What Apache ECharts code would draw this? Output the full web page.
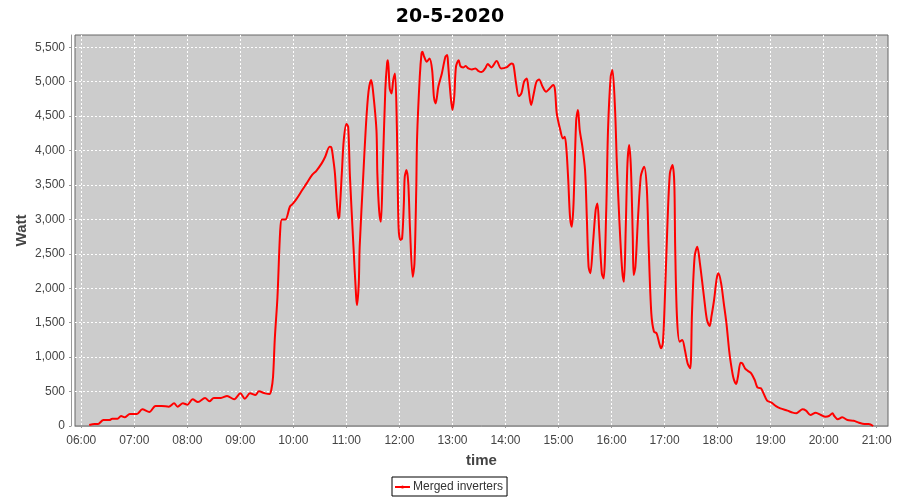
<!DOCTYPE html>
<html>
<head>
<meta charset="utf-8">
<script src="https://cdn.jsdelivr.net/npm/echarts@6/dist/echarts.min.js"></script>
<style>html,body{margin:0;padding:0;background:#fff;}#chart{width:900px;height:500px;}</style>
</head>
<body>
<div id="chart"></div>
<script>
const title = '20-5-2020';
const seriesName = 'Merged inverters';
const times = ['06:09','06:15','06:19','06:25','06:32','06:35','06:41','06:45','06:49','06:55','07:03','07:09','07:17','07:24','07:31','07:39','07:45','07:49','07:55','08:00','08:06','08:12','08:20','08:25','08:30','08:38','08:45','08:53','09:00','09:05','09:11','09:17','09:21','09:28','09:33','09:35','09:37','09:39','09:42','09:45','09:47','09:51','09:56','09:59','10:04','10:10','10:15','10:21','10:26','10:32','10:36','10:41','10:43','10:45','10:47','10:49','10:51','10:52','10:55','10:57','11:00','11:02','11:04','11:08','11:11','11:12','11:14','11:15','11:19','11:22','11:25','11:28','11:30','11:34','11:35','11:37','11:39','11:41','11:44','11:46','11:47','11:49','11:51','11:53','11:55','11:57','11:59','12:01','12:03','12:05','12:06','12:08','12:10','12:12','12:15','12:17','12:19','12:20','12:23','12:25','12:26','12:28','12:31','12:34','12:37','12:39','12:41','12:44','12:48','12:52','12:54','12:55','12:58','13:00','13:02','13:04','13:07','13:09','13:12','13:15','13:18','13:22','13:26','13:29','13:33','13:37','13:40','13:44','13:50','13:55','14:01','14:07','14:09','14:12','14:15','14:18','14:21','14:24','14:26','14:29','14:32','14:35','14:38','14:42','14:46','14:50','14:54','14:56','14:58','15:02','15:05','15:07','15:09','15:11','15:13','15:15','15:17','15:20','15:22','15:24','15:27','15:30','15:32','15:34','15:36','15:39','15:42','15:44','15:46','15:49','15:51','15:54','15:56','15:59','16:01','16:04','16:06','16:09','16:12','16:14','16:16','16:18','16:20','16:22','16:24','16:25','16:27','16:30','16:33','16:35','16:37','16:40','16:42','16:45','16:48','16:51','16:54','16:56','16:58','17:00','17:03','17:06','17:09','17:11','17:12','17:14','17:17','17:20','17:23','17:26','17:29','17:31','17:34','17:37','17:40','17:45','17:48','17:51','17:53','17:56','17:59','18:01','18:04','18:07','18:10','18:13','18:15','18:18','18:21','18:23','18:26','18:28','18:31','18:34','18:38','18:42','18:45','18:49','18:52','18:56','19:01','19:06','19:11','19:19','19:25','19:29','19:32','19:36','19:40','19:45','19:51','19:57','20:02','20:06','20:10','20:12','20:16','20:21','20:27','20:34','20:40','20:46','20:51','20:56'];
const watts = [15,30,30,87,87,106,106,145,126,174,174,242,203,290,290,281,329,281,329,310,387,348,407,358,407,407,436,387,474,397,474,450,503,474,465,523,716,1273,1878,2822,3001,3001,3185,3223,3306,3427,3524,3645,3707,3814,3911,4056,4046,3887,3669,3282,3015,3040,3717,4153,4385,4346,3620,2604,1878,1757,2072,2604,3620,4346,4855,5024,4879,4298,3669,3136,2967,3669,4879,5266,5314,4903,4830,5024,5121,4395,2894,2701,2725,3233,3620,3717,3524,2846,2169,2362,3427,4201,5072,5411,5435,5363,5290,5338,5169,4782,4685,4927,5121,5363,5387,5266,4782,4588,4782,5218,5314,5227,5208,5227,5193,5179,5193,5159,5140,5193,5256,5208,5300,5193,5208,5266,5242,4976,4792,4830,5000,5048,4903,4661,4830,5000,5034,4927,4855,4903,4951,4879,4540,4298,4177,4201,4008,3572,3040,2894,3233,4443,4588,4298,4056,3717,3040,2314,2217,2652,3136,3233,2846,2217,2144,3136,4298,5072,5169,4588,3814,2943,2265,2096,2846,3814,4080,3717,2749,2193,2314,3040,3620,3717,3766,3427,2604,1636,1370,1346,1200,1128,1200,1733,2846,3669,3790,3524,2604,1588,1225,1249,1104,910,837,1636,2459,2604,2362,1830,1539,1452,1588,1830,2144,2217,2072,1782,1491,1104,910,692,610,716,920,910,837,803,765,668,561,547,474,368,339,290,257,223,194,184,208,242,223,160,194,160,136,145,184,145,97,126,87,77,48,29,29,0];
const xTickLabels = ['06:00','07:00','08:00','09:00','10:00','11:00','12:00','13:00','14:00','15:00','16:00','17:00','18:00','19:00','20:00','21:00'];
const yTicks = [0,500,1000,1500,2000,2500,3000,3500,4000,4500,5000,5500];

function toMin(s){const p=s.split(':');return (+p[0])*60+(+p[1]);}
function fmtMin(v){const h=Math.floor(v/60),m=Math.round(v-h*60);return (h<10?'0':'')+h+':'+(m<10?'0':'')+m;}
const xTicks = xTickLabels.map(toMin);
const data = times.map((t,i)=>[toMin(t), watts[i]]);

const labelFont = {fontFamily:'Liberation Sans', fontSize:12, color:'#444'};
const chart = echarts.init(document.getElementById('chart'), null, {renderer:'canvas'});
chart.setOption({
  animation:false,
  backgroundColor:'#fff',
  title:{text:title,left:'center',top:3,textStyle:{fontFamily:'DejaVu Sans',fontWeight:'bold',fontSize:19,color:'#000'}},
  grid:{left:75,right:12,top:35,bottom:74,show:true,backgroundColor:'#CCCCCC',borderColor:'#666',borderWidth:1,containLabel:false},
  legend:{data:[seriesName],left:392,top:477,padding:[4,4,3,2],itemWidth:15,itemHeight:4,itemGap:5,borderColor:'#000',borderWidth:1,borderRadius:0,
    textStyle:{fontFamily:'Liberation Sans',fontSize:12,color:'#333',padding:[0,0,0,-2]}},
  xAxis:{type:'value',min:352.9,max:1272.8,offset:4,
    name:'time',nameLocation:'middle',nameGap:23,nameMoveOverlap:false,nameTextStyle:{fontFamily:'Liberation Sans',fontWeight:'bold',fontSize:15,color:'#444'},
    axisLine:{show:true,lineStyle:{color:'#999',width:1}},
    axisTick:{show:true,length:2,customValues:xTicks,lineStyle:{color:'#999'}},
    axisLabel:{customValues:xTicks,formatter:v=>fmtMin(v),margin:5,...labelFont},
    splitLine:{show:true,lineStyle:{color:'#fff',type:[2,2],width:1}}
  },
  yAxis:{type:'value',min:0,max:5679,offset:4,
    name:'Watt',nameLocation:'middle',nameGap:42,nameRotate:90,nameMoveOverlap:false,nameTextStyle:{fontFamily:'Liberation Sans',fontWeight:'bold',fontSize:15,color:'#444'},
    axisLine:{show:true,lineStyle:{color:'#999',width:1}},
    axisTick:{show:true,length:2,customValues:yTicks,lineStyle:{color:'#999'}},
    axisLabel:{customValues:yTicks,formatter:v=>v.toLocaleString('en-US'),margin:6,...labelFont},
    splitLine:{show:true,lineStyle:{color:'#fff',type:[2,2],width:1}}
  },
  series:[{name:seriesName,type:'line',data:data,smooth:0.3,symbol:'circle',symbolSize:3,showSymbol:false,
    lineStyle:{color:'#FF0000',width:2},itemStyle:{color:'#FF0000'},clip:true}]
});
</script>
</body>
</html>
